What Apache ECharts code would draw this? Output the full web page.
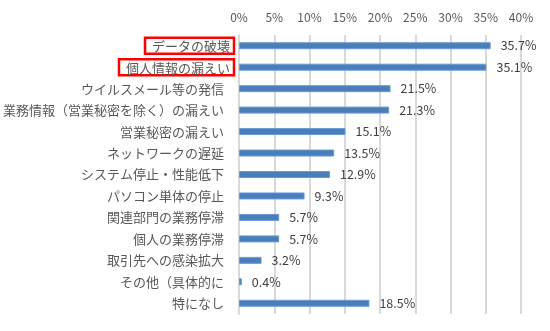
<!DOCTYPE html>
<html>
<head>
<meta charset="utf-8">
<script src="https://cdn.jsdelivr.net/npm/echarts@6/dist/echarts.min.js"></script>
<style>
  html, body { margin: 0; padding: 0; background: #fff; }
  #chart { width: 550px; height: 331px; }
</style>
</head>
<body>
<div id="chart"></div>
<script>
// 被害の内容（複数回答, %）
const categories = [
  'データの破壊',
  '個人情報の漏えい',
  'ウイルスメール等の発信',
  '業務情報（営業秘密を除く）の漏えい',
  '営業秘密の漏えい',
  'ネットワークの遅延',
  'システム停止・性能低下',
  'パソコン単体の停止',
  '関連部門の業務停滞',
  '個人の業務停滞',
  '取引先への感染拡大',
  'その他（具体的に',
  '特になし'
];
const values = [35.7, 35.1, 21.5, 21.3, 15.1, 13.5, 12.9, 9.3, 5.7, 5.7, 3.2, 0.4, 18.5];
const tickValues = [0, 5, 10, 15, 20, 25, 30, 35, 40];
// 強調表示する項目
const highlighted = ['データの破壊', '個人情報の漏えい'];

const FONT = '"Noto Sans CJK JP", "Noto Sans", sans-serif';
const chart = echarts.init(document.getElementById('chart'), null, { renderer: 'canvas' });

chart.setOption({
  animation: false,
  backgroundColor: '#ffffff',
  textStyle: { fontFamily: FONT },
  grid: { left: 238, right: 29, top: 35, bottom: 17, containLabel: false },
  xAxis: {
    type: 'value',
    position: 'top',
    min: tickValues[0],
    max: tickValues[tickValues.length - 1],
    interval: 5,
    axisLine: { show: false },
    axisTick: { show: false },
    splitLine: { show: true, lineStyle: { color: '#d9d9d9', width: 2 } },
    axisLabel: {
      formatter: v => v + '%',
      color: '#595959',
      fontSize: 12,
      fontFamily: FONT,
      margin: 12
    }
  },
  yAxis: {
    type: 'category',
    data: categories,
    inverse: true,
    axisLine: { show: true, lineStyle: { color: '#d9d9d9', width: 2 } },
    axisTick: { show: false },
    axisLabel: {
      margin: 5,
      fontFamily: FONT,
      formatter: v => highlighted.includes(v) ? '{hl|' + v + '}' : '{n|' + v + '}',
      rich: {
        n: { color: '#595959', fontSize: 13, fontFamily: FONT, padding: [0, 10, 0, 0] },
        hl: {
          color: '#595959', fontSize: 13, fontFamily: FONT,
          borderColor: '#ff0000', borderWidth: 2.5,
          padding: [2, 4, 1, 7]
        }
      }
    }
  },
  series: [{
    type: 'bar',
    data: values,
    barWidth: 7,
    itemStyle: { color: '#4a7ebb', borderColor: '#6b9ad6', borderWidth: 1 },
    label: {
      show: true,
      position: 'right',
      distance: 10,
      formatter: p => p.value.toFixed(1) + '%',
      color: '#404040',
      fontSize: 12.5,
      fontFamily: FONT
    }
  }]
});
</script>
</body>
</html>
